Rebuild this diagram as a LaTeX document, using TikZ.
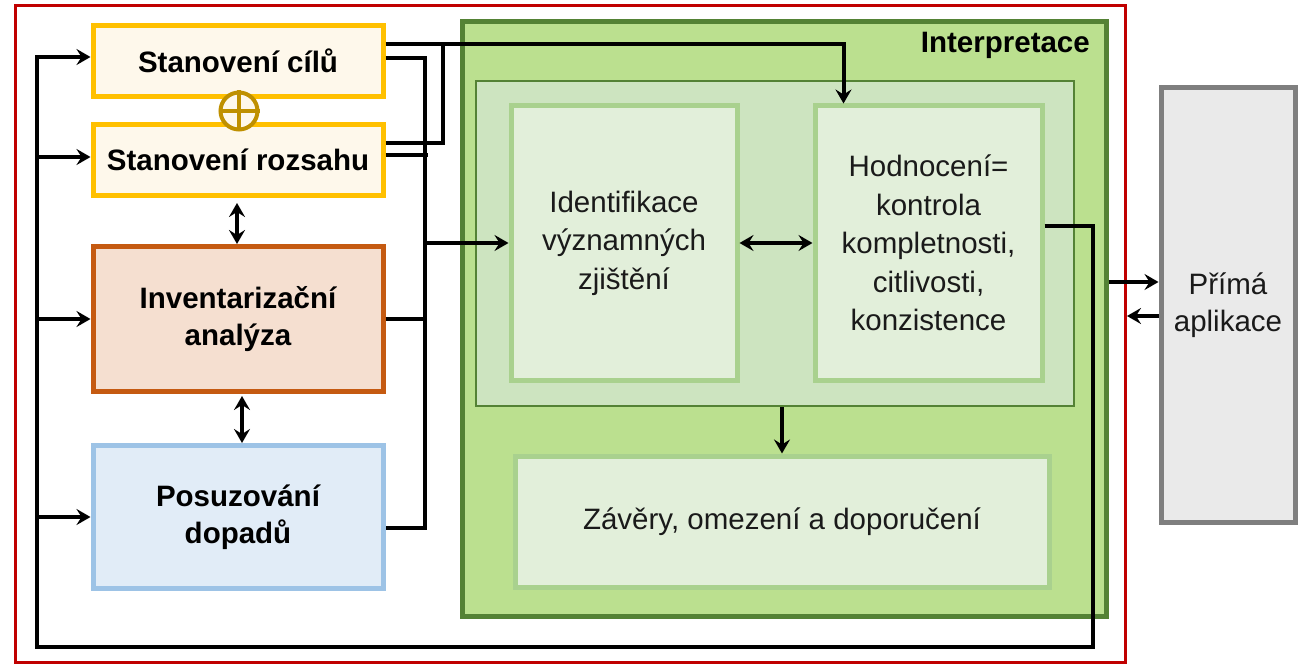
\documentclass[tikz,border=0pt]{standalone}
\usepackage{fontspec}
\setmainfont{Liberation Sans}
\usetikzlibrary{positioning, arrows.meta, calc}

\definecolor{framered}{HTML}{C00000}
\definecolor{goalorange}{HTML}{FFC000}
\definecolor{goalfill}{HTML}{FEF8EB}
\definecolor{plusgold}{HTML}{BF9000}
\definecolor{invorange}{HTML}{C55A11}
\definecolor{invfill}{HTML}{F5DFD0}
\definecolor{impblue}{HTML}{9DC3E6}
\definecolor{impfill}{HTML}{E1ECF7}
\definecolor{interpborder}{HTML}{548235}
\definecolor{interpfill}{HTML}{BBE08F}
\definecolor{innerfill}{HTML}{CDE4C0}
\definecolor{findgreen}{HTML}{A9D18E}
\definecolor{findfill}{HTML}{E2EFDA}
\definecolor{applgray}{HTML}{7F7F7F}
\definecolor{applfill}{HTML}{EAEAEA}
\definecolor{darktext}{HTML}{1A1A1A}

\begin{document}
\begin{tikzpicture}[x=1pt, y=-1pt,
    conn/.style={line width=4pt},
    arrow/.style={conn, -{Stealth[length=14pt, width=16pt, inset=5pt]}},
    twoway/.style={conn, {Stealth[length=14pt, width=16pt, inset=5pt]}-{Stealth[length=14pt, width=16pt, inset=5pt]}},
    phase/.style={draw, line width=5pt, minimum width=290pt, inner sep=0pt, align=center, text=black, font=\fontsize{29.5}{37}\selectfont\bfseries},
    finding/.style={draw=findgreen, fill=findfill, line width=5pt, inner sep=0pt, align=center, text=darktext, font=\fontsize{29.5}{38.5}\selectfont}
]

    \useasboundingbox (0,0) rectangle (1299,666);

    % Outer frame
    \node[draw=framered, line width=3pt, minimum width=1110pt, minimum height=657pt, inner sep=0pt] (frame) at (570.5,334) {};

    % Phases on the left
    \node[phase, draw=goalorange, fill=goalfill, minimum height=71pt] (cil) at (238,61) {Stanovení cílů};
    \node[phase, draw=goalorange, fill=goalfill, minimum height=71pt] (rozsah) at (238,160) {Stanovení rozsahu};
    \node[phase, draw=invorange, fill=invfill, minimum height=145pt] (inv) at (238,319) {Inventarizační\\analýza};
    \node[phase, draw=impblue, fill=impfill, minimum height=143pt] (pos) at (238,517) {Posuzování\\dopadů};

    % Plus sign between goal and scope
    \node[circle, draw=plusgold, fill=goalfill, line width=4pt, minimum size=37pt, inner sep=0pt] (plus) at (239,111) {};
    \draw[plusgold, line width=3.5pt] (plus.north) -- (plus.south) (plus.west) -- (plus.east);

    % Interpretation block
    \node[draw=interpborder, fill=interpfill, line width=5pt, minimum width=644pt, minimum height=594pt, inner sep=0pt] (interp) at (784,319) {};
    \node[anchor=base east, inner sep=0pt, text=black, font=\fontsize{29.5}{35}\selectfont\bfseries] (title) at (1090,53) {Interpretace};
    \node[draw=interpborder, fill=innerfill, line width=2.5pt, minimum width=598pt, minimum height=325pt, inner sep=0pt] (inner) at (775,243.5) {};
    \node[finding, minimum width=226pt, minimum height=274pt] (ident) at (624,243) {Identifikace\\významných\\zjištění};
    \node[finding, minimum width=227pt, minimum height=274pt] (hodn) at (928.5,243) {Hodnocení=\\kontrola\\kompletnosti,\\citlivosti,\\konzistence};
    \node[finding, minimum width=534pt, minimum height=131pt] (zav) at (782,521.5) {Závěry, omezení a doporučení};

    % Application
    \node[draw=applgray, fill=applfill, line width=5pt, minimum width=134pt, minimum height=434pt, inner sep=0pt, align=center, text=darktext, font=\fontsize{29.5}{37}\selectfont] (prima) at (1228,305) {Přímá\\aplikace};

    % Helper points for the routed lines
    \coordinate (busT) at (425,58);
    \coordinate (busB) at (425,528);
    \coordinate (join) at (443,44);
    \coordinate (fbL) at (37,647);
    \coordinate (fbR) at (1093,647);
    \coordinate (out) at ([yshift=37pt]interp.east);
    \coordinate (back) at ([yshift=-11pt]prima.west);

    % Feedback loop back to the phases
    \draw[arrow] ([yshift=17pt]hodn.east) -| (fbR) -- (fbL) |- ([yshift=4pt]cil.west);
    \draw[arrow] (fbL |- rozsah.west) ++(0,-3) -- ([yshift=3pt]rozsah.west);
    \foreach \n in {inv, pos}
        \draw[arrow] (fbL |- \n.west) -- (\n.west);

    % Goal and scope into evaluation
    \draw[arrow] ([yshift=17pt]cil.east) -| ([xshift=-85pt]hodn.north);
    \draw[conn] ([yshift=17pt]rozsah.east) -| (join);

    % Results of all phases into identification
    \draw[conn] ([yshift=3pt]cil.east) -| (busB) -- (busB -| pos.east);
    \draw[conn] ([yshift=5pt]rozsah.east) -- ++(42,0);
    \draw[conn] (inv.east) -- (inv.east -| busT);
    \draw[arrow] (busT |- ident.west) -- (ident.west);

    % Links between boxes
    \draw[twoway, shorten <=5pt] ([xshift=-1pt]rozsah.south) -- ([xshift=-1pt]inv.north);
    \draw[twoway, shorten <=2pt] ([xshift=4pt]inv.south) -- ([xshift=4pt]pos.north);
    \draw[twoway] (ident.east) -- (hodn.west);
    \draw[arrow] (inner.south -| zav.north) -- (zav.north);

    % To and from the application
    \draw[arrow] (out) -- (out -| prima.west);
    \draw[arrow] (back) -- (back -| frame.east);

\end{tikzpicture}
\end{document}
